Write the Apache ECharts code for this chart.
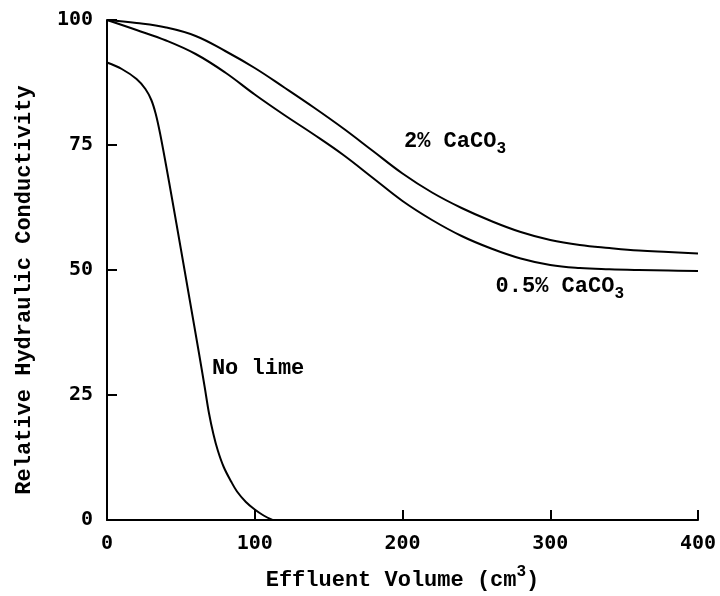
<!DOCTYPE html>
<html><head><meta charset="utf-8">
<script src="https://cdn.jsdelivr.net/npm/echarts@6/dist/echarts.min.js"></script>
<style>html,body{margin:0;padding:0;background:#fff}#c{width:720px;height:596px}</style>
</head><body><div id="c"></div>
<script>
// Effluent volume (cm3) and relative hydraulic conductivity values
const noLimeX = [0, 10, 20, 26, 30, 33, 36, 40, 44, 50, 56, 62, 66, 69, 72, 75, 79, 84, 88, 94, 100, 106, 112];
const noLimeY = [91.5, 90.2, 88.2, 86.2, 84.0, 81.2, 77.2, 70.9, 64.3, 54.2, 44.0, 33.8, 26.8, 21.4, 17.2, 13.9, 10.6, 7.7, 5.7, 3.6, 2.1, 0.9, 0];

const caco2X = [0, 20, 40, 60, 80, 100, 120, 140, 160, 180, 200, 220, 240, 260, 280, 300, 320, 340, 360, 380, 400];
const caco2Y = [100, 99.4, 98.5, 96.8, 93.8, 90.4, 86.5, 82.5, 78.3, 73.8, 69.3, 65.5, 62.4, 59.8, 57.6, 56.0, 55.0, 54.4, 53.9, 53.6, 53.3];

const caco05X = [0, 20, 40, 60, 80, 100, 120, 140, 160, 180, 200, 220, 240, 260, 280, 300, 320, 340, 360, 380, 400];
const caco05Y = [100, 98.0, 95.9, 93.2, 89.5, 85.1, 81.0, 77.1, 73.0, 68.4, 63.8, 60.0, 56.8, 54.3, 52.3, 51.0, 50.4, 50.15, 50.0, 49.9, 49.8];

const xTickValues = [0, 100, 200, 300, 400];

// curve label anchors (data coordinates)
const labelNoLime = [71, 30.3];
const label2 = [201, 75.8];
const label05 = [263, 46.8];

const zip = (xs, ys) => xs.map((x, i) => [x, ys[i]]);
const MONO = '"Liberation Mono", "Courier New", monospace';
const TICKFONT = '"DejaVu Sans Mono", monospace';
const richLbl = {
  m: { fontFamily: MONO, fontWeight: 'bold', fontSize: 22, color: '#000' },
  s: { fontFamily: MONO, fontWeight: 'bold', fontSize: 16, color: '#000', padding: [16, 0, 0, 0] }
};
function mp(coord, text) {
  return {
    symbol: 'circle', symbolSize: 0, silent: true,
    label: { show: true, position: 'right', distance: 0, formatter: text, rich: richLbl },
    data: [{ coord: coord }]
  };
}
const lineStyle = { color: '#000', width: 2 };

const chart = echarts.init(document.getElementById('c'), null, { renderer: 'canvas' });
chart.setOption({
  animation: false,
  backgroundColor: '#fff',
  grid: { left: 107, right: 22, top: 20, bottom: 73, containLabel: false },
  xAxis: {
    type: 'value', min: 0, max: 400, interval: 100,
    name: '{t|Effluent Volume (cm}{p|3}{t|)}',
    nameLocation: 'middle', nameGap: 44,
    nameTextStyle: {
      rich: {
        t: { fontFamily: MONO, fontWeight: 'bold', fontSize: 22, color: '#000' },
        p: { fontFamily: MONO, fontWeight: 'bold', fontSize: 16, color: '#000', padding: [0, 0, 16, 0] }
      }
    },
    axisLine: { show: true, lineStyle: { color: '#000', width: 2 } },
    axisTick: { show: true, inside: true, length: 10, lineStyle: { color: '#000', width: 2 } },
    axisLabel: { margin: 14, fontFamily: TICKFONT, fontWeight: 'bold', fontSize: 20, color: '#000',
      customValues: xTickValues },
    splitLine: { show: false }
  },
  yAxis: {
    type: 'value', min: 0, max: 100, interval: 25,
    name: 'Relative Hydraulic Conductivity',
    nameLocation: 'middle', nameGap: 72,
    nameTextStyle: { fontFamily: MONO, fontWeight: 'bold', fontSize: 22, color: '#000', padding: [0, 40, 0, 0] },
    axisLine: { show: true, lineStyle: { color: '#000', width: 2 } },
    axisTick: { show: true, inside: true, length: 10, lineStyle: { color: '#000', width: 2 } },
    axisLabel: { margin: 14, fontFamily: TICKFONT, fontWeight: 'bold', fontSize: 20, color: '#000' },
    splitLine: { show: false }
  },
  series: [
    { name: 'No lime', type: 'line', data: zip(noLimeX, noLimeY), showSymbol: false, smooth: 0.35,
      lineStyle: lineStyle, markPoint: mp(labelNoLime, '{m|No lime}') },
    { name: '2% CaCO3', type: 'line', data: zip(caco2X, caco2Y), showSymbol: false, smooth: 0.4,
      lineStyle: lineStyle, markPoint: mp(label2, '{m|2% CaCO}{s|3}') },
    { name: '0.5% CaCO3', type: 'line', data: zip(caco05X, caco05Y), showSymbol: false, smooth: 0.4,
      lineStyle: lineStyle, markPoint: mp(label05, '{m|0.5% CaCO}{s|3}') }
  ]
});
</script></body></html>
